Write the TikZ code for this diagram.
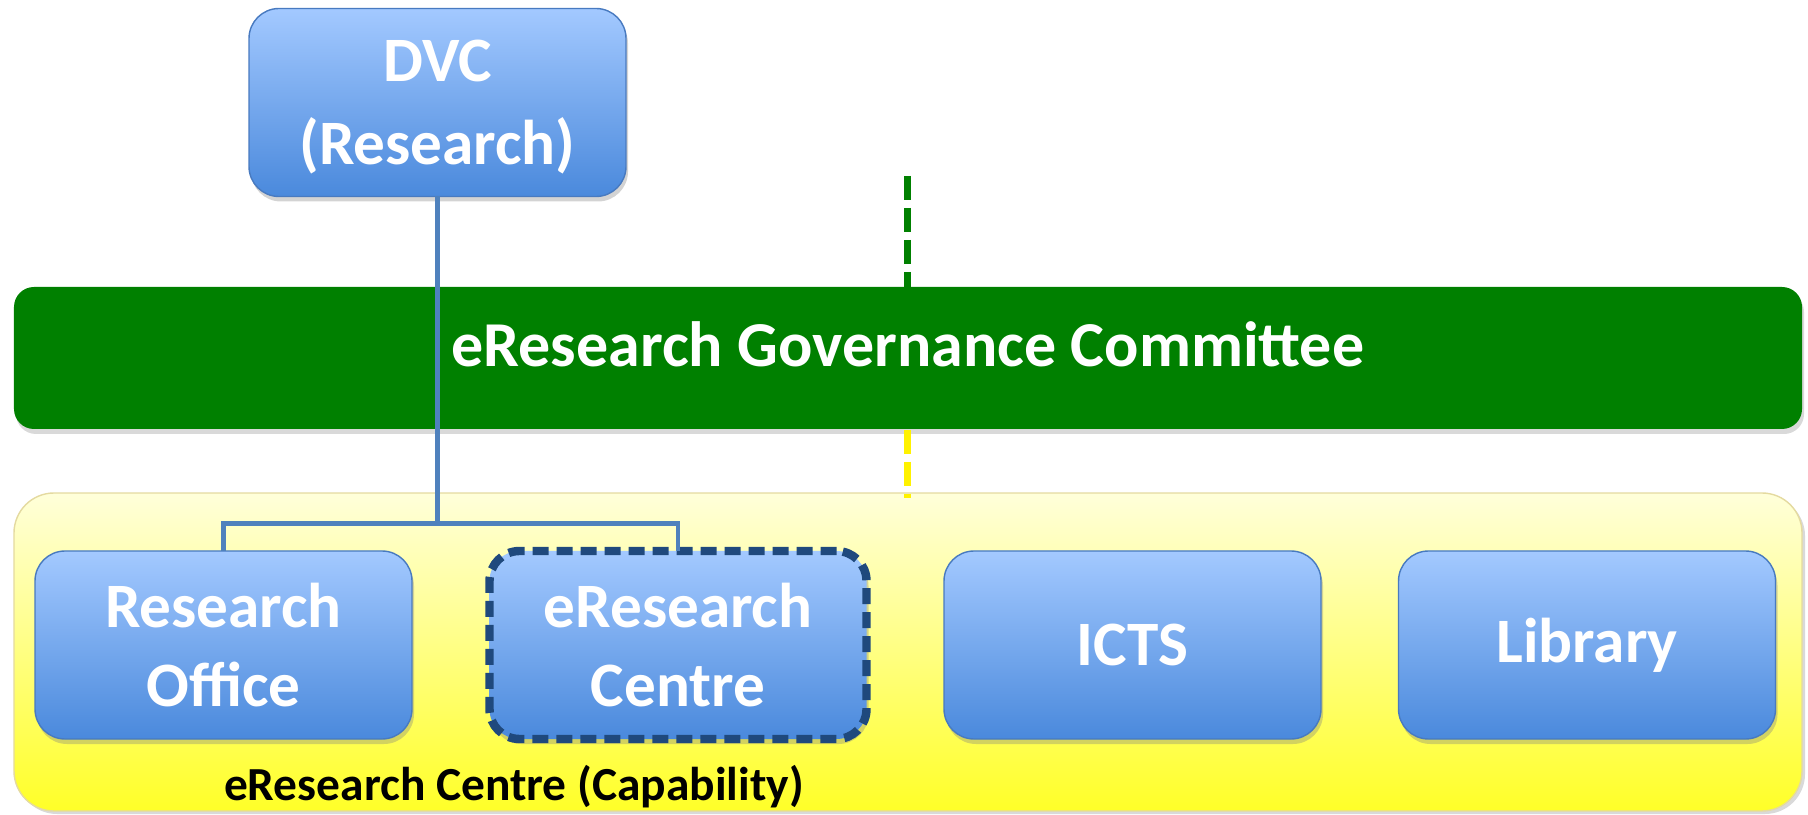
\documentclass[tikz,border=0pt]{standalone}
\usepackage{fontspec}
\setmainfont{Carlito}
\usepackage{xcolor}
\usepackage{tikz}
\usetikzlibrary{positioning,shadows,calc}
\definecolor{boxtop}{RGB}{163,201,255}
\definecolor{boxbottom}{RGB}{74,137,220}
\definecolor{boxedge}{RGB}{72,122,192}
\definecolor{govgreen}{RGB}{0,128,0}
\definecolor{captop}{RGB}{255,255,218}
\definecolor{capbottom}{RGB}{255,255,40}
\definecolor{capedge}{RGB}{228,218,160}
\definecolor{linkblue}{RGB}{79,129,189}
\definecolor{erdash}{RGB}{31,73,125}

\begin{document}
\begin{tikzpicture}[
    node distance=0.775cm,
    unit/.style={rectangle, draw=boxedge, thin, top color=boxtop, bottom color=boxbottom, minimum width=3.77cm, minimum height=1.88cm, outer sep=0pt, rounded corners=0.3cm, align=center, text=white, font=\fontsize{18}{22.5}\selectfont\bfseries, drop shadow={opacity=0.35, shadow xshift=0.02cm, shadow yshift=-0.05cm}},
    committee/.style={rectangle, fill=govgreen, minimum width=17.88cm, minimum height=1.42cm, rounded corners=0.2cm, text=white, font=\fontsize{18.2}{22}\selectfont\bfseries, drop shadow={opacity=0.3, shadow xshift=0.02cm, shadow yshift=-0.05cm}},
    capability/.style={rectangle, draw=capedge, thin, top color=captop, bottom color=capbottom, minimum width=17.88cm, minimum height=3.18cm, rounded corners=0.4cm, drop shadow={opacity=0.3, shadow xshift=0.03cm, shadow yshift=-0.03cm}},
    conn/.style={-, linkblue, line width=1.2pt},
    govline/.style={govgreen, line width=2pt, dash pattern=on 0.24cm off 0.08cm},
    capline/.style={yellow, line width=2pt, dash pattern=on 0.24cm off 0.08cm}
]
    \useasboundingbox (0,0) rectangle (18.08,8.14);

    % Top of the tree
    \node[unit, font=\fontsize{18}{23.5}\selectfont\bfseries] (dvc) at (4.375,7.115) {DVC\\\smash{(Research)}};

    % Governance committee and its link upwards
    \coordinate (govtop) at (9.07,6.38);
    \draw[govline] (govtop) -- (9.07,5.27);
    \node[committee] (gov) at (9.08,4.56) {\raisebox{0.27cm}{eResearch Governance Committee}};

    % Capability container
    \node[capability] (cap) at (9.08,1.62) {};
    \draw[capline] (gov.south -| govtop) -- ($(cap.north -| govtop)+(0,-0.06)$);
    \node[font=\fontsize{13.5}{16}\selectfont\bfseries] (caplabel) at (5.14,0.27) {eResearch Centre (Capability)};

    % Units inside the capability
    \node[unit] (ro) at (2.235,1.69) {Research\\Office};
    \node[unit, right=of ro, draw=erdash, line width=2.4pt, dash pattern=on 0.16cm off 0.08cm] (erc) {eResearch\\Centre};
    \node[unit, right=of erc] (icts) {ICTS};
    \node[unit, right=of icts] (lib) {Library};

    % Reporting lines
    \draw[conn] (dvc.south) -- ++(0,-3.27) coordinate (fork);
    \draw[conn] (fork) -| (ro.north);
    \draw[conn] (fork) -| (erc.north);

\end{tikzpicture}
\end{document}
